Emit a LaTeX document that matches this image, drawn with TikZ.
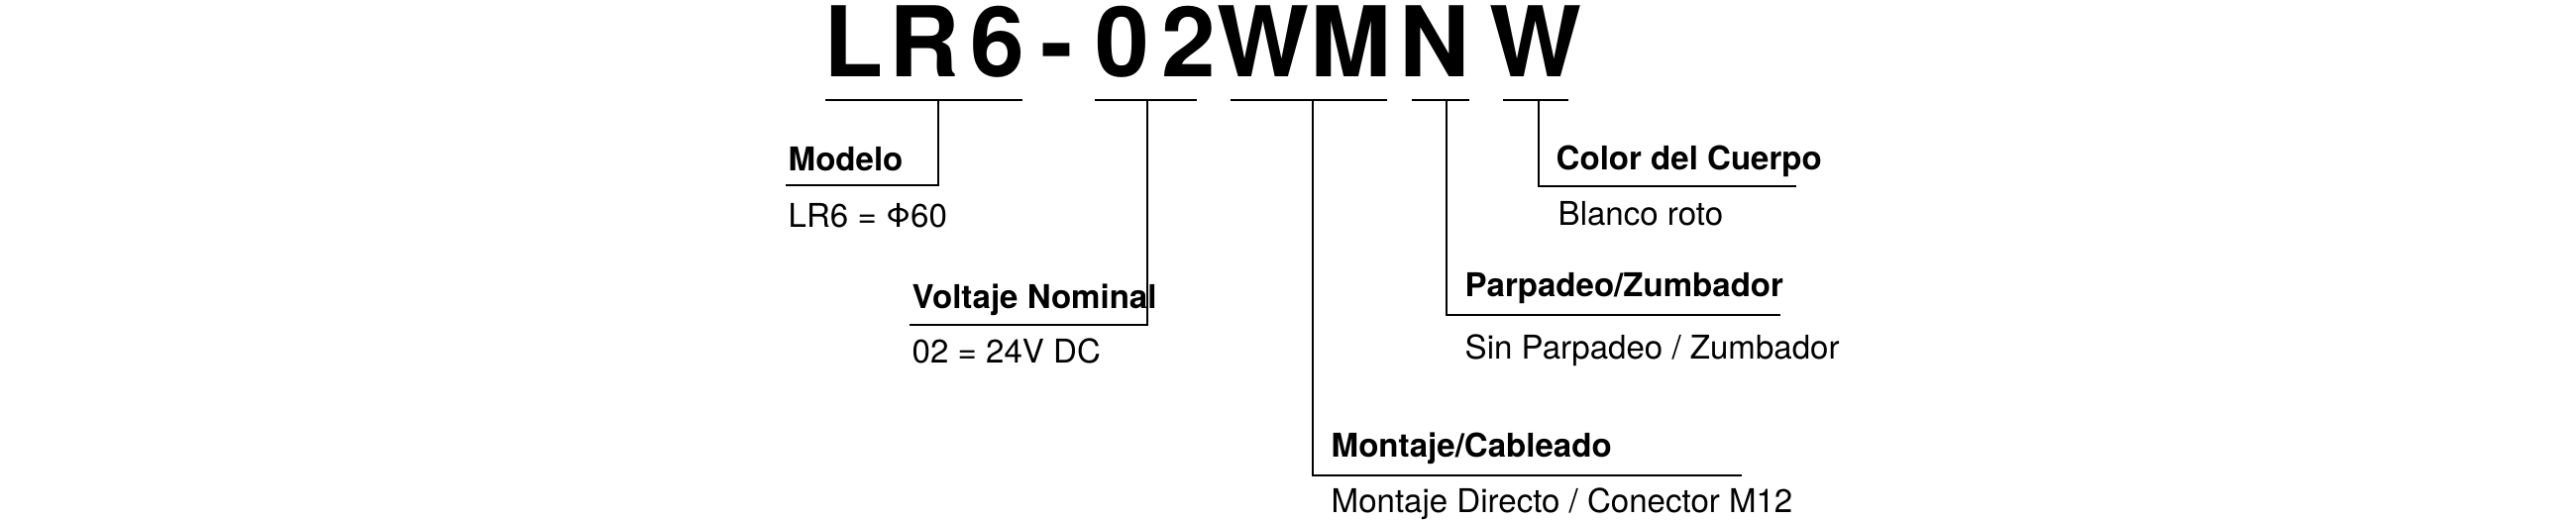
\documentclass[tikz,border=0pt]{standalone}
\usepackage{fontspec}
\setmainfont{TeX Gyre Heros}
\begin{document}
\begin{tikzpicture}[x=0.01cm,y=-0.01cm,
  ch/.style={anchor=base,inner sep=0,font=\fontsize{28}{30}\selectfont\bfseries},
  ttl/.style={anchor=base west,inner sep=0,font=\fontsize{9.4}{11}\selectfont\bfseries},
  sub/.style={anchor=base west,inner sep=0,font=\fontsize{9.4}{11}\selectfont},
  ln/.style={line width=0.7pt}]
\useasboundingbox (0,0) rectangle (2600,525);
\foreach \c/\x [count=\i] in {L/862,R/933,6/1007,-/1067,0/1133,2/1200,W/1275,M/1363,N/1448,W/1550}
  \node[ch] (c\i) at (\x,78) {\c};
% underlines
\coordinate (u1) at (947,101); \coordinate (u2) at (1158,101); \coordinate (u3) at (1325,101);
\coordinate (u4) at (1460,101); \coordinate (u5) at (1553,101);
\draw[ln] (833,101) -- (1032,101);
\draw[ln] (1105,101) -- (1208,101);
\draw[ln] (1242,101) -- (1400,101);
\draw[ln] (1425,101) -- (1483,101);
\draw[ln] (1517,101) -- (1583,101);
% labels
\node[ttl] (t1) at (795,173) {Modelo};
\node[sub] (s1) at (795,230) {LR6 = Φ60};
\coordinate (e1) at (793,187);
\draw[ln] (u1) |- (e1);
\node[ttl] (t2) at (920,312) {Voltaje Nominal};
\node[sub] (s2) at (920,367) {02 = 24V DC};
\coordinate (e2) at (918,328);
\draw[ln] (u2) |- (e2);
\node[ttl] (t3) at (1343,462) {Montaje/Cableado};
\node[sub] (s3) at (1343,518) {Montaje Directo / Conector M12};
\coordinate (e3) at (1758,480);
\draw[ln] (u3) |- (e3);
\node[ttl] (t4) at (1478,300) {Parpadeo/Zumbador};
\node[sub] (s4) at (1478,363) {Sin Parpadeo / Zumbador};
\coordinate (e4) at (1797,318);
\draw[ln] (u4) |- (e4);
\node[ttl] (t5) at (1570,172) {Color del Cuerpo};
\node[sub] (s5) at (1572,228) {Blanco roto};
\coordinate (e5) at (1813,188);
\draw[ln] (u5) |- (e5);
\end{tikzpicture}
\end{document}
